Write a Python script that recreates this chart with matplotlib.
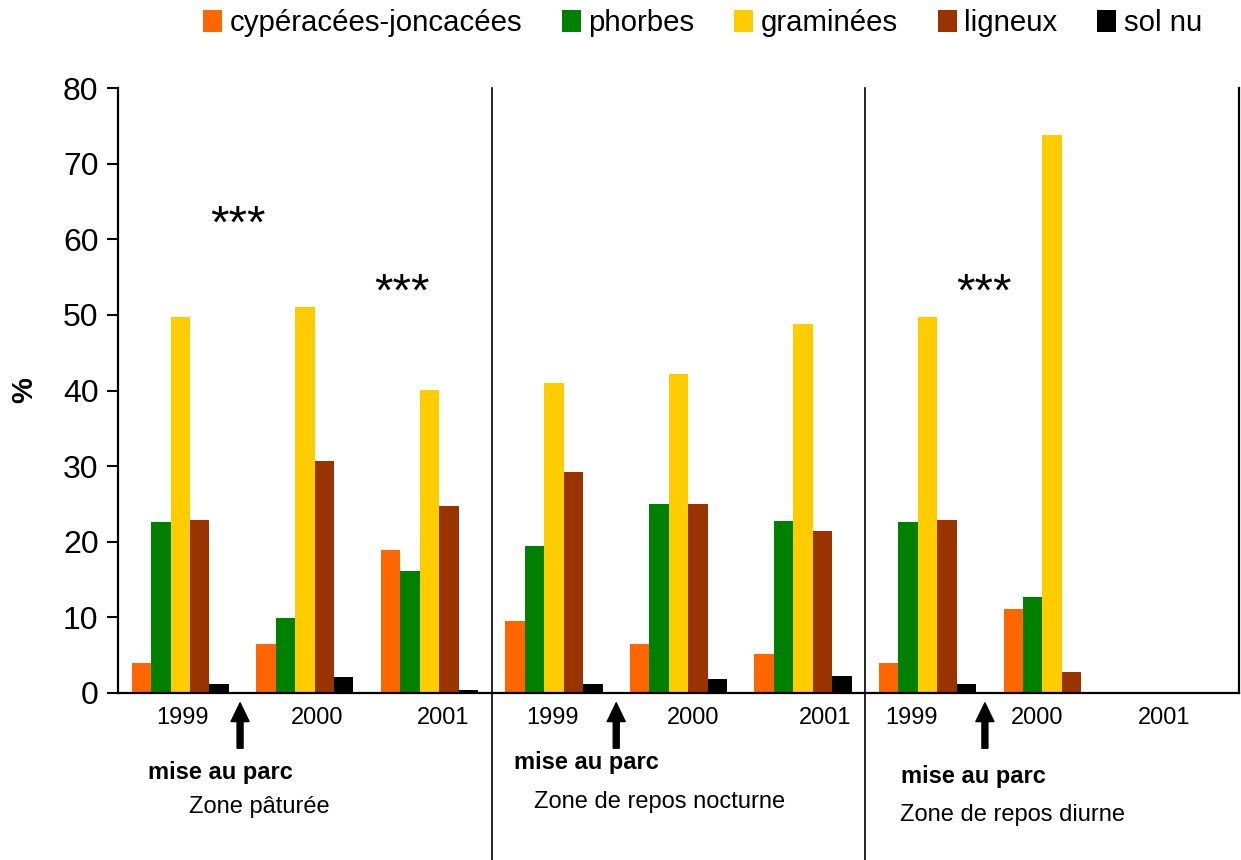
import matplotlib
matplotlib.use("Agg")
import matplotlib.pyplot as plt
import numpy as np

plt.rcParams["font.family"] = ["Liberation Sans", "DejaVu Sans"]

# Categories
zones = ["Zone pâturée", "Zone de repos nocturne", "Zone de repos diurne"]
years = ["1999", "2000", "2001"]
series = ["cypéracées-joncacées", "phorbes", "graminées", "ligneux", "sol nu"]

# Values (%) : 3 years per zone, zones in order
cyperacees = [4.0, 6.5, 18.9, 9.5, 6.5, 5.2, 4.0, 11.1, 0]
phorbes = [22.6, 9.9, 16.1, 19.4, 25.0, 22.7, 22.6, 12.7, 0]
graminees = [49.7, 51.0, 40.1, 41.0, 42.2, 48.8, 49.7, 73.8, 0]
ligneux = [22.9, 30.7, 24.7, 29.2, 25.0, 21.4, 22.9, 2.8, 0]
sol_nu = [1.2, 2.1, 0.4, 1.2, 1.8, 2.2, 1.2, 0, 0]

colors = ["#FF6600", "#008000", "#FFCC00", "#993300", "#000000"]

fig = plt.figure(figsize=(12.41, 8.6), dpi=100)
ax = fig.add_axes([118 / 1241, 1 - 693 / 860, 1121 / 1241, 605 / 860])

n = len(cyperacees)
p = np.arange(n) + 0.5
width = 0.156
data = [cyperacees, phorbes, graminees, ligneux, sol_nu]
for k, (vals, c, lab) in enumerate(zip(data, colors, series)):
    ax.bar(p + (k - 2) * width, vals, width, color=c, label=lab, linewidth=0)

ax.set_xlim(0, n)
ax.set_ylim(0, 80)
ax.set_yticks(np.arange(0, 81, 10))
ax.tick_params(axis="y", labelsize=23, length=8, width=1.5, direction="out", pad=6)

# year labels (slightly shifted like the original)
label_pos = [0.52, 1.60, 2.61, 3.49, 4.62, 5.68, 6.37, 7.38, 8.40]
ax.set_xticks(label_pos)
ax.set_xticklabels(years * 3)
ax.tick_params(axis="x", labelsize=17, length=0, pad=10)

for s in ["left", "bottom", "right"]:
    ax.spines[s].set_linewidth(1.6)
ax.spines["top"].set_visible(False)

ax.set_ylabel("%", fontsize=21, fontweight="bold")
ax.yaxis.set_label_coords(-0.071, 0.5)

# separators between zones, running down to the bottom of the figure
for xs in [3, 6]:
    ax.plot([xs, xs], [-0.276, 1.0], color="black", lw=1.2,
            transform=ax.get_xaxis_transform(), clip_on=False)

# significance stars
stars = [(0.96, 60.2), (2.28, 51.2), (6.95, 51.2)]
for sx, sy in stars:
    ax.text(sx, sy, "***", fontsize=34, ha="center", va="baseline")

# "mise au parc" arrows
arrow_x = [0.98, 4.0, 6.96]
for axx in arrow_x:
    ax.annotate("", xy=(axx, -1.3), xytext=(axx, -7.3),
                arrowprops=dict(facecolor="black", edgecolor="black",
                                width=4.3, headwidth=13, headlength=13.5, shrink=0),
                annotation_clip=False)

mise_pos = [(220, 773), (586, 762), (973, 777)]
for mx, my in mise_pos:
    fig.text(mx / 1241, 1 - my / 860, "mise au parc", fontsize=17,
             fontweight="bold", ha="center", va="center")

zone_pos = [(259, 807), (660, 802), (1013, 815)]
for z, (zx, zy) in zip(zones, zone_pos):
    fig.text(zx / 1241, 1 - zy / 860, z, fontsize=17, ha="center", va="center")

ax.legend(loc="center", bbox_to_anchor=(0.566, 0.973), bbox_transform=fig.transFigure,
          ncol=5, frameon=False, fontsize=21.2, handlelength=0.65, handleheight=0.75,
          handletextpad=0.25, columnspacing=1.35, borderaxespad=0)

fig.savefig("out.png", dpi=100)
